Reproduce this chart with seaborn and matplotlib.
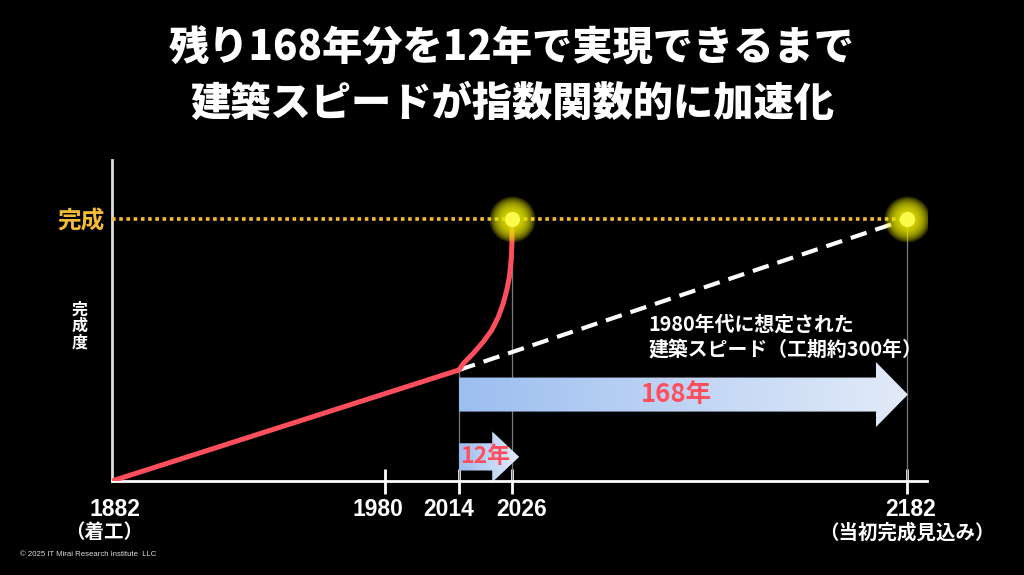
import numpy as np
import pandas as pd
import matplotlib
matplotlib.use("Agg")
import matplotlib.pyplot as plt
import seaborn as sns
from matplotlib.patches import Polygon
from matplotlib.colors import LinearSegmentedColormap
from matplotlib.transforms import ScaledTranslation

# --- data ---
tick_years = [1882, 1980, 2014, 2026, 2182]
tick_labels = ["1882", "1980", "2014", "2026", "2182"]
tick_notes = {1882: "（着工）", 2182: "（当初完成見込み）"}

# actual progress (0 = start, 1 = complete)
progress_years = [1882, 2014, 2015.0, 2017.2, 2019.5, 2021.4, 2022.9, 2024.0,
                  2024.8, 2025.4, 2025.8, 2025.97, 2026]
progress_vals = [0.0, 0.424, 0.449, 0.487, 0.532, 0.576, 0.627, 0.678,
                 0.729, 0.780, 0.844, 0.908, 1.0]

# pace assumed in the 1980s (about 300 years)
plan_years = [2014, 2182]
plan_vals = [0.424, 1.0]

finish_years = [2026, 2182]
finish_vals = [1.0, 1.0]

# arrows: label, from, to, level
arrow_labels = ["168年", "12年"]
arrow_from = [2014, 2014]
arrow_to = [2182, 2026]
arrow_level = [0.33, 0.092]

# the time axis in the picture is schematic, not linear: piecewise breakpoints
scale_years = [1800, 1882, 1980, 2014, 2026, 2182, 2190, 2300]
scale_pos = [-229, 0, 273, 347, 400, 795, 815, 1090]


def fwd(x):
    return np.interp(x, scale_years, scale_pos)


def inv(p):
    return np.interp(p, scale_pos, scale_years)


sns.set_theme(style="dark", rc={"axes.facecolor": "black", "figure.facecolor": "black"})
plt.rcParams["font.family"] = ["Noto Sans CJK JP", "DejaVu Sans"]
latin = ["Liberation Sans", "Noto Sans CJK JP"]

fig = plt.figure(figsize=(10.24, 5.75), dpi=100, facecolor="black")
ax = fig.add_axes([0.1094, 0.1635, 0.796, 0.558])
ax.set_facecolor("black")
ax.set_xscale("function", functions=(fwd, inv))
ax.set_xlim(1882, 2190)
ax.set_ylim(0, 1.225)

red = "#ff4f5c"
gold = "#f6bb35"

# thin guide lines
ax.vlines(finish_years, 0, finish_vals, color="#7a7a7a", lw=0.9, zorder=1)
ax.vlines(plan_years[0], 0, plan_vals[0], color="#7a7a7a", lw=0.9, zorder=1)

# gradient arrows
cmap = LinearSegmentedColormap.from_list("arr", ["#9cbef0", "#e3ebf9"])
grad = np.linspace(0, 1, 256).reshape(1, -1)
to_axes = ax.transScale + ax.transLimits
# shaft half height, head half height, head length (yr), tip overshoot (yr)
arrow_dims = [(0.065, 0.124, 12.6, 0.3), (0.052, 0.097, 7.3, 2.8)]
for lab, x0, x1, yc, (sh, hh, hl, ov) in zip(arrow_labels, arrow_from, arrow_to, arrow_level, arrow_dims):
    tip = x1 + ov
    verts = [(x0, yc - sh), (tip - hl, yc - sh), (tip - hl, yc - hh), (tip, yc),
             (tip - hl, yc + hh), (tip - hl, yc + sh), (x0, yc + sh)]
    poly = Polygon(verts, closed=True, facecolor="none", edgecolor="none")
    ax.add_patch(poly)
    fx0 = to_axes.transform((x0, 0))[0]
    fx1 = to_axes.transform((tip, 0))[0]
    im = ax.imshow(grad, cmap=cmap, aspect="auto", extent=(fx0, fx1, 0, 1),
                   transform=ax.transAxes, zorder=2, interpolation="bilinear")
    im.set_clip_path(poly)

ax.text(2091, arrow_level[0], arrow_labels[0], color=red, fontsize=18.5,
        fontweight="bold", ha="center", va="center", zorder=6)
ax.text(2014.3, arrow_level[1], arrow_labels[1], color=red, fontsize=16.5,
        fontweight="bold", ha="left", va="center", zorder=6)

# completion level
ax.hlines(1.0, 1882, 2182, color=gold, lw=2.6, linestyles=(0, (1, 1)), zorder=3)

# lines
sns.lineplot(x=plan_years, y=plan_vals, ax=ax, color="white", lw=3,
             linestyle=(0, (4, 2.2)), zorder=3)
df = pd.DataFrame({"year": progress_years, "val": progress_vals})
sns.lineplot(data=df, x="year", y="val", ax=ax, color=red, lw=3.6, zorder=4,
             sort=False, estimator=None)
for line in ax.lines:
    line.set_solid_capstyle("round")
    line.set_solid_joinstyle("round")

# soft glow at completion points
for r in np.linspace(23, 4, 16):
    ax.scatter(finish_years, finish_vals, s=(2 * r * 0.72) ** 2, color="#e8e800",
               alpha=0.16, lw=0, zorder=5)
ax.scatter(finish_years, finish_vals, s=120, color="#ffff55", alpha=0.9, lw=0, zorder=5)

ax.text(2080, 0.64, "1980年代に想定された\n建築スピード（工期約300年）", color="white",
        fontsize=14.3, fontweight="bold", ha="left", va="top", linespacing=1.25)

# axes styling
ax.set_xlim(1882, 2190)
ax.set_ylim(0, 1.225)
ax.grid(False)
for side in ["top", "right"]:
    ax.spines[side].set_visible(False)
ax.spines["left"].set_color("#dddddd")
ax.spines["left"].set_linewidth(2)
ax.spines["bottom"].set_color("white")
ax.spines["bottom"].set_linewidth(2)

ax.set_xticks(tick_years)
ax.set_xticklabels(tick_labels)
ax.tick_params(axis="x", direction="inout", length=18, width=2, color="white",
               labelcolor="white", labelsize=16.5, pad=3, bottom=True)
ax.xaxis.get_major_ticks()[0].tick1line.set_visible(False)
nudges = [3, -7, -10, 10, 3]  # px, labels are spread apart in the picture
for lab, dx in zip(ax.get_xticklabels(), nudges):
    lab.set_fontweight("bold")
    lab.set_family(latin)
    lab.set_transform(lab.get_transform() + ScaledTranslation(dx / 100, 0, fig.dpi_scale_trans))

note_nudge = {1882: -8, 2182: 0}
for yr, note in tick_notes.items():
    t = ax.text(yr, -0.162, note, transform=ax.get_xaxis_transform(), color="white",
                fontsize=14, fontweight="bold", ha="center", va="center")
    t.set_transform(t.get_transform() + ScaledTranslation(note_nudge[yr] / 100, 0, fig.dpi_scale_trans))

ax.set_yticks([1.0])
ax.set_yticklabels(["完成"])
ax.tick_params(axis="y", length=0, labelcolor=gold, labelsize=17, pad=5, left=True)
for lab in ax.get_yticklabels():
    lab.set_fontweight("bold")
ax.set_xlabel("")
ax.set_ylabel("")

fig.text(80 / 1024, 1 - 326 / 575, "完\n成\n度", color="white", fontsize=11.5,
         fontweight="bold", ha="center", va="center", linespacing=1.05)

fig.text(0.5, 1 - 49 / 575, "残り168年分を12年で実現できるまで", color="white",
         fontsize=29, fontweight="heavy", ha="center", va="center")
fig.text(0.5, 1 - 104 / 575, "建築スピードが指数関数的に加速化", color="white",
         fontsize=29, fontweight="heavy", ha="center", va="center")

fig.text(20 / 1024, 1 - 554 / 575, "© 2025 IT Mirai Research Institute  LLC",
         color="#dddddd", fontsize=5.6, family=latin, ha="left", va="center")

fig.savefig("out.png", dpi=100, facecolor="black")
